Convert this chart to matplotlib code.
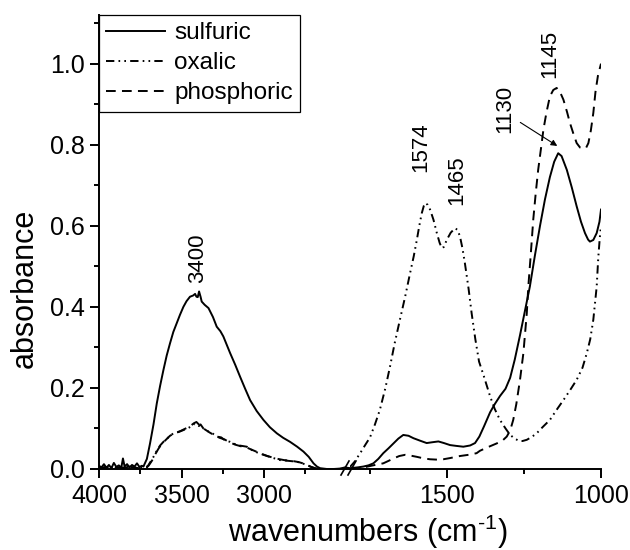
import matplotlib
matplotlib.use('Agg')
import matplotlib.pyplot as plt
from matplotlib.lines import Line2D

plt.rcParams['font.family'] = ['Liberation Sans', 'DejaVu Sans']
plt.rcParams['mathtext.fontset'] = 'custom'
plt.rcParams['mathtext.rm'] = 'Liberation Sans'
plt.rcParams['mathtext.it'] = 'Liberation Sans'
plt.rcParams['lines.scale_dashes'] = False

# ---- data: high wavenumber segment (4000-2480 cm-1) ----
sulf_wn_hi = [4000, 3985, 3970, 3955, 3940, 3925, 3910, 3895, 3880, 3865, 3855, 3845,
              3830, 3815, 3800, 3785, 3770, 3755, 3740, 3731, 3710, 3691, 3670, 3650,
              3630, 3610, 3590, 3570, 3550, 3529, 3510, 3489, 3470, 3449, 3430, 3418,
              3410, 3402, 3394, 3385, 3378, 3360, 3337, 3310, 3287, 3265, 3247, 3225,
              3206, 3175, 3146, 3115, 3085, 3045, 3004, 2965, 2923, 2885, 2843, 2800,
              2762, 2730, 2701, 2680, 2661, 2620, 2580, 2540, 2510, 2480]
sulf_hi = [0.008, 0.004, 0.012, 0.003, 0.010, 0.002, 0.015, 0.005, 0.009, 0.003, 0.026, 0.006,
           0.012, 0.004, 0.010, 0.006, 0.014, 0.005, 0.008, 0.006, 0.025, 0.063, 0.110, 0.162,
           0.205, 0.244, 0.280, 0.310, 0.338, 0.360, 0.380, 0.400, 0.414, 0.425, 0.428, 0.432,
           0.425, 0.424, 0.438, 0.425, 0.413, 0.405, 0.397, 0.375, 0.351, 0.340, 0.327, 0.305,
           0.286, 0.257, 0.228, 0.198, 0.170, 0.143, 0.121, 0.103, 0.088, 0.077, 0.067, 0.055,
           0.043, 0.030, 0.014, 0.006, 0.002, 0.0, 0.0, 0.001, 0.004, 0.002]

oxal_wn_hi = [4000, 3970, 3940, 3910, 3880, 3850, 3820, 3790, 3760, 3730, 3709, 3691,
              3670, 3650, 3630, 3610, 3580, 3550, 3520, 3489, 3460, 3438, 3420, 3408,
              3395, 3385, 3368, 3340, 3310, 3287, 3260, 3235, 3206, 3180, 3150, 3105,
              3080, 3050, 3004, 2960, 2903, 2850, 2802, 2770, 2741, 2710, 2681, 2620,
              2560, 2480]
oxal_hi = [0.004, 0.002, 0.006, 0.003, 0.005, 0.002, 0.006, 0.003, 0.004, 0.002, 0.004, 0.016,
           0.030, 0.045, 0.058, 0.067, 0.078, 0.088, 0.091, 0.096, 0.101, 0.106, 0.112, 0.110,
           0.106, 0.110, 0.100, 0.093, 0.087, 0.080, 0.078, 0.070, 0.067, 0.062, 0.058, 0.055,
           0.048, 0.042, 0.035, 0.029, 0.022, 0.020, 0.018, 0.014, 0.010, 0.004, 0.0, 0.0,
           0.0, 0.001]

phos_wn_hi = [4000, 3960, 3920, 3880, 3840, 3800, 3760, 3720, 3700, 3680, 3660, 3640,
              3620, 3600, 3570, 3540, 3510, 3480, 3450, 3425, 3410, 3398, 3380, 3360,
              3330, 3300, 3270, 3240, 3210, 3175, 3140, 3100, 3060, 3020, 2980, 2930,
              2880, 2830, 2790, 2750, 2720, 2690, 2650, 2580, 2480]
phos_hi = [0.003, 0.005, 0.002, 0.004, 0.003, 0.005, 0.002, 0.004, 0.008, 0.020, 0.036, 0.050,
           0.062, 0.070, 0.082, 0.089, 0.093, 0.099, 0.105, 0.113, 0.116, 0.111, 0.104, 0.098,
           0.090, 0.083, 0.077, 0.073, 0.066, 0.060, 0.056, 0.052, 0.045, 0.038, 0.032, 0.026,
           0.022, 0.020, 0.017, 0.012, 0.006, 0.002, 0.0, 0.0, 0.001]

# ---- data: low wavenumber segment (1815-1000 cm-1) ----
sulf_wn_lo = [1815, 1790, 1772, 1755, 1739, 1723, 1707, 1690, 1674, 1658, 1642, 1625,
              1609, 1588, 1566, 1548, 1528, 1510, 1490, 1470, 1447, 1425, 1409, 1395,
              1380, 1360, 1345, 1328, 1310, 1295, 1280, 1263, 1247, 1231, 1215, 1198,
              1182, 1166, 1152, 1139, 1128, 1111, 1095, 1079, 1065, 1052, 1042, 1036,
              1025, 1014, 1005, 1000]
sulf_lo = [0.002, 0.004, 0.006, 0.009, 0.014, 0.025, 0.039, 0.051, 0.063, 0.075, 0.084, 0.082,
           0.076, 0.070, 0.064, 0.066, 0.068, 0.064, 0.059, 0.057, 0.055, 0.058, 0.064, 0.080,
           0.105, 0.140, 0.160, 0.180, 0.198, 0.225, 0.270, 0.330, 0.390, 0.450, 0.525, 0.600,
           0.665, 0.720, 0.758, 0.779, 0.772, 0.738, 0.695, 0.648, 0.610, 0.582, 0.566, 0.561,
           0.565, 0.582, 0.610, 0.640]

oxal_wn_lo = [1815, 1800, 1782, 1765, 1750, 1734, 1718, 1700, 1685, 1670, 1653, 1636,
              1620, 1608, 1598, 1590, 1582, 1575, 1571, 1563, 1555, 1544, 1533, 1524,
              1517, 1510, 1501, 1488, 1474, 1466, 1458, 1450, 1442, 1430, 1420, 1408,
              1396, 1380, 1360, 1345, 1328, 1310, 1295, 1280, 1268, 1255, 1241, 1225,
              1209, 1190, 1166, 1145, 1122, 1100, 1079, 1060, 1046, 1035, 1025, 1014,
              1009, 1004, 1000]
oxal_lo = [0.005, 0.018, 0.039, 0.060, 0.078, 0.110, 0.146, 0.200, 0.253, 0.310, 0.368, 0.425,
           0.483, 0.525, 0.565, 0.600, 0.631, 0.650, 0.656, 0.652, 0.640, 0.615, 0.582, 0.558,
           0.545, 0.548, 0.565, 0.583, 0.594, 0.590, 0.574, 0.545, 0.508, 0.445, 0.384, 0.320,
           0.265, 0.228, 0.179, 0.148, 0.121, 0.100, 0.084, 0.075, 0.070, 0.069, 0.072, 0.079,
           0.088, 0.103, 0.121, 0.145, 0.170, 0.195, 0.220, 0.250, 0.286, 0.320, 0.368, 0.450,
           0.520, 0.570, 0.600]

phos_wn_lo = [1815, 1790, 1770, 1740, 1707, 1690, 1674, 1655, 1636, 1618, 1598, 1575,
              1555, 1530, 1512, 1490, 1458, 1430, 1404, 1393, 1370, 1339, 1320, 1306,
              1295, 1285, 1275, 1263, 1252, 1241, 1236, 1228, 1220, 1212, 1204, 1195,
              1187, 1177, 1166, 1155, 1144, 1133, 1122, 1110, 1101, 1090, 1079, 1068,
              1057, 1048, 1041, 1033, 1025, 1018, 1010, 1000]
phos_lo = [0.0, 0.002, 0.004, 0.009, 0.014, 0.020, 0.026, 0.032, 0.035, 0.033, 0.030, 0.026,
           0.024, 0.023, 0.024, 0.027, 0.032, 0.035, 0.039, 0.045, 0.053, 0.063, 0.070, 0.080,
           0.095, 0.121, 0.160, 0.220, 0.286, 0.384, 0.450, 0.530, 0.615, 0.680, 0.738, 0.790,
           0.837, 0.880, 0.919, 0.935, 0.940, 0.930, 0.911, 0.880, 0.854, 0.828, 0.804, 0.793,
           0.790, 0.793, 0.804, 0.835, 0.878, 0.930, 0.970, 1.000]

series_labels = ['sulfuric', 'oxalic', 'phosphoric']
xticks_hi = [4000, 3500, 3000]
xminor_hi = [3750, 3250, 2750]
xticks_lo = [1500, 1000]
xminor_lo = [1750, 1250]
yticks = [0.0, 0.2, 0.4, 0.6, 0.8, 1.0]
yminor = [0.1, 0.3, 0.5, 0.7, 0.9, 1.1]
peak_labels_hi = [(3400, 0.459, '3400')]
peak_labels_lo = [(1586, 0.733, '1574'), (1467, 0.652, '1465'),
                  (1312, 0.83, '1130'), (1166, 0.965, '1145')]

styles = [dict(color='black', lw=1.4, linestyle='-'),
          dict(color='black', lw=1.4, dashes=(6, 3, 1.2, 3, 1.2, 3)),
          dict(color='black', lw=1.4, dashes=(7, 4.5))]


def style_axis(ax):
    for s in ['top', 'right']:
        ax.spines[s].set_visible(False)
    ax.spines['left'].set_linewidth(1.4)
    ax.spines['bottom'].set_linewidth(1.4)
    ax.tick_params(which='major', direction='out', length=6.5, width=1.4,
                   labelsize=18, pad=4)
    ax.tick_params(which='minor', direction='out', length=3.5, width=1.4)
    ax.set_ylim(0, 1.12)


def main():
    fig = plt.figure(figsize=(6.3, 5.5), dpi=100)
    W, H = 630.0, 550.0
    bot = 1 - 469 / H
    top = 1 - 15 / H
    ax1 = fig.add_axes([99 / W, bot, (350 - 99) / W, top - bot])
    ax2 = fig.add_axes([350 / W, bot, (601 - 350) / W, top - bot])

    style_axis(ax1)
    style_axis(ax2)

    data_hi = [(sulf_wn_hi, sulf_hi), (oxal_wn_hi, oxal_hi), (phos_wn_hi, phos_hi)]
    data_lo = [(sulf_wn_lo, sulf_lo), (oxal_wn_lo, oxal_lo), (phos_wn_lo, phos_lo)]
    handles = []
    for (x, y), st, lab in zip(data_hi, styles, series_labels):
        h, = ax1.plot(x, y, label=lab, **st)
        handles.append(h)
    for (x, y), st in zip(data_lo, styles):
        ax2.plot(x, y, **st)

    ax1.set_xlim(4000, 2480)
    ax1.set_xticks(xticks_hi)
    ax1.set_xticks(xminor_hi, minor=True)
    ax1.set_yticks(yticks)
    ax1.set_yticks(yminor, minor=True)
    ax1.set_yticklabels(['%.1f' % v for v in yticks])

    ax2.set_xlim(1815, 1000)
    ax2.set_xticks(xticks_lo)
    ax2.set_xticks(xminor_lo, minor=True)
    ax2.spines['left'].set_visible(False)
    ax2.tick_params(axis='y', which='both', left=False, labelleft=False)

    # peak labels
    for x, y, t in peak_labels_hi:
        ax1.text(x, y, t, rotation=90, ha='center', va='bottom', fontsize=16)
    for x, y, t in peak_labels_lo:
        ax2.text(x, y, t, rotation=90, ha='center', va='bottom', fontsize=16)
    ax2.annotate('', xy=(1142, 0.797), xytext=(1262, 0.855),
                 arrowprops=dict(arrowstyle='-|>', color='black', lw=0.8,
                                 mutation_scale=9, shrinkA=0, shrinkB=0))

    # axis break marks
    for x0 in [341, 348]:
        fig.add_artist(Line2D([x0 / W, (x0 + 8) / W], [1 - 475 / H, 1 - 461 / H],
                              color='black', lw=1.2))

    leg = ax1.legend(handles=handles, loc='upper left', bbox_to_anchor=(0, 1),
                     borderaxespad=0, fontsize=17.5, handlelength=2.4,
                     handletextpad=0.4, labelspacing=0.33, borderpad=0.3,
                     fancybox=False, framealpha=1, edgecolor='black')
    leg.get_frame().set_linewidth(0.9)

    fig.text(25 / W, 1 - 288 / H, 'absorbance', rotation=90, ha='center',
             va='center', fontsize=22)
    fig.text(368 / W, 1 - 532 / H, 'wavenumbers (cm$^{\\text{-1}}$)', ha='center',
             va='center', fontsize=22)

    fig.savefig('out.png', dpi=100)
    plt.close(fig)


if __name__ == '__main__':
    main()
